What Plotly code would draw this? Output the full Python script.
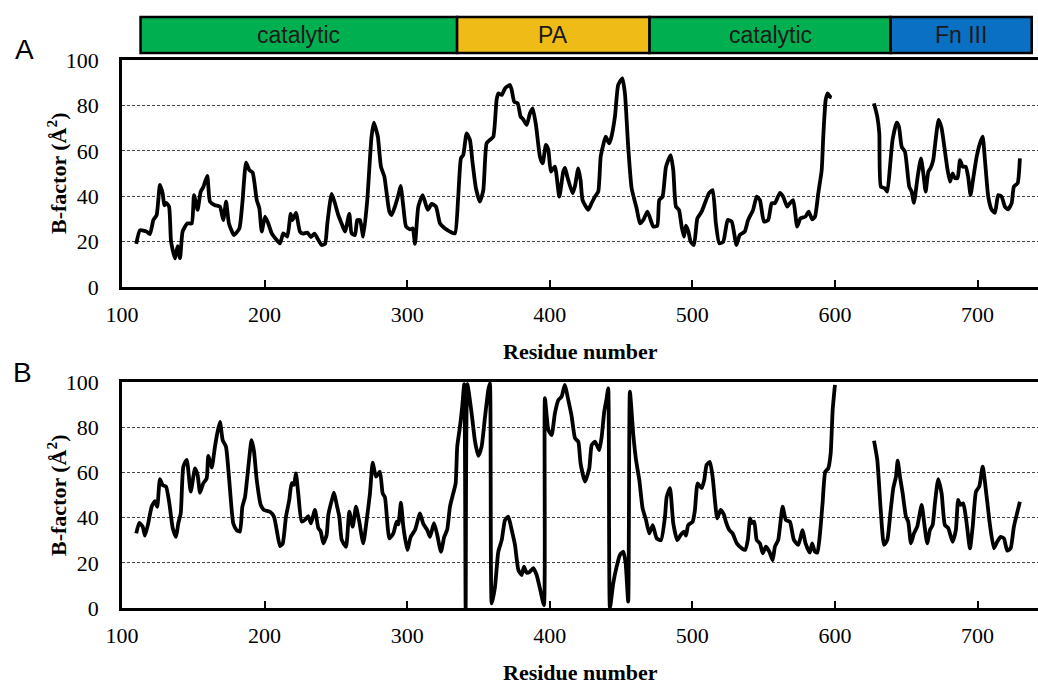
import plotly.graph_objects as go

# ---------------- data ----------------
res_a = [110, 112.6, 117.3, 119.6, 122, 124.3, 126.6, 128.5, 129.7, 131, 133, 134.4, 137.2, 139, 140.7,
         142.5, 145.8, 148.9, 150.5, 153, 155.2, 157, 159.8, 161.7, 165.2, 168.7, 171, 173, 175, 178.5,
         182.3, 184.4, 187, 189.3, 191.6, 194.5, 196.3, 198, 200.3, 202.6, 205, 208.5, 210.8, 213.1,
         215.9, 218.3, 219.6, 222, 224.8, 227, 230, 232.5, 235, 237, 240, 242.4, 244, 247, 249.3, 251.7,
         254, 256.4, 259.4, 261, 263.4, 265, 266.9, 269.2, 272, 275, 276.7, 278.6, 279.5, 281.6, 284,
         285.6, 287.5, 289.1, 291.4, 293.8, 295.4, 297.3, 299.2, 302, 303.9, 305.5, 307.8, 310.9, 314.4,
         317.2, 320.2, 323, 326.5, 330, 333.5, 335.8, 337.7, 339.3, 341.7, 344, 345.9, 348.2, 351, 353.4,
         355.7, 358, 360.4, 362.7, 363.9, 366.3, 368.6, 372.1, 373.3, 375.1, 377.5, 379.6, 381.2, 383.8,
         386.1, 388, 390.3, 393.1, 395, 397.3, 399, 400.8, 403.6, 406.7, 409.5, 410.7, 412.3, 416, 417.7,
         420, 421.6, 423, 427, 429.3, 431.7, 434, 435.7, 437.5, 439.2, 441.7, 443, 445.7, 448, 450.9,
         452.7, 455, 457.4, 460.9, 463.3, 465.6, 468.4, 470, 472.6, 475.4, 476.8, 479.1, 481.5, 484.8,
         486.6, 488.5, 490.6, 492.5, 494.1, 495.5, 497.2, 498.8, 501.1, 503.5, 506.5, 508.8, 511.6, 514.2,
         516.5, 518.9, 521.7, 524.8, 527.6, 530.9, 533.2, 536.7, 539.1, 542.6, 545.1, 547.4, 550.2, 553.2,
         555.6, 557.9, 561.4, 563.7, 566.5, 568.4, 570.7, 573.5, 575.8, 579.3, 581.6, 584, 586, 588.3,
         590.7, 591.8, 593.5, 594.9, 596.5, 597.7, None,
         627.4, 629.7, 631.1, 632.2, 635, 636.7, 638.6, 640.4, 643.3, 644.9, 646.8, 649.1, 652.1, 653.8,
         655.4, 658, 660.3, 662, 663.6, 665.5, 667, 668.9, 670.6, 672.7, 674.8, 676.7, 678.8, 680.7,
         682.5, 684.1, 686, 687.7, 689.6, 691.7, 693.4, 695.1, 697, 699.4, 701.7, 703.6, 705.2, 707.5,
         709.9, 712.2, 714.5, 716.9, 719.2, 721.5, 723.9, 725.5, 728.1, 729.7]
bf_a = [19, 25, 24.4, 23.3, 29.5, 31.7, 45, 41.3, 36, 37, 35.4, 20, 12.6, 18, 12.7,
        24.4, 28, 28, 40.5, 34, 42, 44, 49, 37.6, 36, 35.4, 29.5, 37.6, 28, 22.9,
        25.8, 36.9, 54.8, 51.5, 50.4, 38.3, 34.7, 24.4, 31, 28, 23.6, 20.7, 19.2, 23.6,
        22.2, 32.2, 29.5, 32.7, 24.4, 23.5, 24, 22, 23.5, 21.5, 18.5, 19, 28, 41, 37, 31.7,
        28, 24.4, 32.2, 23.6, 22.9, 29.5, 29.5, 22.2, 38.3, 66.2, 72.4, 68.4, 66, 53, 48.6,
        41.3, 33.2, 31.7, 35.4, 40.5, 44.5, 35.4, 26.6, 25.4, 25.8, 19, 35.4, 40.5, 34,
        36.6, 35.4, 28, 25.8, 24.4, 23.6, 39.8, 56.7, 58.1, 67.7, 64.8, 54.5, 43.5, 37.6, 42.7,
        63.3, 64.8, 66.2, 82.4, 85.3, 84.6, 87.5, 89, 86.8, 81.6, 80.9, 75, 74, 71.4,
        76.5, 78.7, 71.4, 57.4, 54.5, 62.6, 60.4, 50.8, 53, 39.8, 51, 52.5, 48.6, 41.3, 44.5,
        52.3, 47.1, 38.3, 34, 36.9, 39.8, 42, 57.4, 62.6, 66.2, 63.3, 65.5, 75, 89, 91.9,
        85.3, 61.8, 43.5, 34.7, 28, 29.5, 33.2, 31, 26.6, 27, 38.3, 39.8, 53, 58.1,
        51.5, 35.4, 34, 26.6, 22.2, 27, 24.4, 20, 18.5, 30.2, 33.2, 36.9, 41.3, 42.7,
        28, 19.2, 20, 29.5, 28.8, 18.5, 22.9, 24.4, 29.5, 34, 39.8, 38.3, 28.8, 29.5,
        36.9, 36.9, 41.5, 39.8, 35.4, 36.9, 38.3, 26.6, 30.2, 31, 33.2, 29.8, 31, 41.3,
        51.5, 66.2, 82.4, 85.3, 83.8, 83.5, None,
        80.9, 75, 67.7, 44.2, 43.5, 42, 53, 64.8, 72.4, 70.6, 61.8, 59.6, 44.2, 42,
        37.1, 48.6, 56.7, 50, 42, 50.8, 52.3, 55.9, 64.8, 73.6, 69.9, 61.8, 52.3, 46.4,
        50, 48, 48, 55.9, 53, 53, 48.6, 40.5, 47.9, 57.4, 63.3, 66.2, 55.9, 39.8,
        34, 32.7, 40.5, 39.8, 35.4, 34.2, 36.9, 44.2, 45.7, 56.7]

res_b = [110, 112.1, 114.5, 116.1, 118.4, 120.8, 123.1, 124.7, 126.6, 128.5, 130.9, 133.2, 135.6, 137.9,
         139.5, 141.2, 143, 145.4, 148.2, 151.2, 153, 154.7, 157, 159.4, 160.5, 162.9, 165.2, 166.8,
         168.7, 170.6, 172.9, 175.2, 178, 180.4, 182.7, 184.4, 186.3, 190.9, 192.6, 194.5, 197.3, 199.6,
         203.8, 206.6, 208.5, 210.8, 212.7, 215, 217.3, 219, 220.6, 222, 223.6, 226, 228.3, 230.6, 232.5,
         235.3, 237.7, 239.3, 241.2, 243.5, 244.7, 247.8, 248.7, 250.6, 252.4, 254.1, 257.1, 259.4, 261.8,
         264.1, 266.4, 269.2, 271.6, 273.9, 275.8, 278.1, 280.9, 282.8, 284.4, 287.5, 290.3, 292.6, 293.8,
         295.6, 297.3, 300.1, 302.5, 305.5, 309, 311.3, 314.1, 316, 318.8, 321.1, 323.7, 326, 328.1, 330,
         332.3, 334, 335.1, 337, 338.6, 340, 341, 342.2, 345.2, 347.6, 349.9, 352.2, 354.6, 356.9, 358,
         359.3, 361.6, 363.9, 366.3, 368.6, 370.9, 373.3, 375.6, 378, 380.3, 381.9, 383.8, 386, 388.4,
         390.8, 393.1, 395.9, 396.6, 399, 401.3, 403.6, 406, 408.3, 410.5, 413, 415.4, 417.7, 420, 421.6,
         424.7, 427.7, 429.4, 431.7, 434.7, 436.4, 438.2, 439.9, 441, 442.2, 444.5, 446.9, 449.2, 451.6,
         453.2, 455, 456.2, 458.6, 460.5, 462.8, 465.1, 467.5, 469.8, 472.2, 475, 478, 480.8, 482, 484.3,
         486.6, 489.4, 491.8, 494.1, 495.5, 497.1, 500.2, 501.8, 503.7, 506.5, 508.3, 510, 512.3, 514.2,
         515.8, 517.4, 519.8, 522.2, 523.5, 525.9, 528.2, 531.2, 534.7, 537, 538.9, 540.5, 541.6, 543.4,
         545.1, 547.4, 549.3, 551.6, 554, 556.3, 557.9, 560.2, 563.3, 565.6, 568.4, 571.2, 574.3, 577.3,
         579.4, 582.4, 584, 586, 587.7, 589.5, 591.3, 593.2, 595.3, 597, 598.4, 600, None,
         627.4, 629.7, 632.1, 634.4, 636.7, 639.1, 640.9, 642.8, 644, 645.6, 647.5, 649.8, 651.4, 653.3,
         655.4, 657.7, 660.8, 662.6, 664.7, 666.6, 668.5, 670.1, 672.4, 674.8, 677.1, 679.5, 682.5, 684.8,
         686.4, 688, 690, 691.9, 694.7, 696.6, 698.9, 701.2, 703.6, 706.4, 708.7, 711.5, 713.8, 716.2,
         718.5, 720.8, 723.2, 725.5, 729.7]
bf_b = [33, 37.7, 36, 32, 37.5, 44.8, 47.3, 44.8, 57, 54.4, 53.7, 46.3, 35.3, 31.5,
        37.5, 41.9, 62.5, 65.5, 51.5, 61.8, 59, 51, 55.2, 57.4, 67.3, 62.1, 71.4, 77.3,
        82.4, 74.3, 71.4, 56.6, 37.5, 34.5, 33.8, 44.8, 49.2, 74.3, 69.2, 56.6, 45.6, 43.4,
        42.6, 40.4, 34.5, 27.4, 28.5, 40.4, 47.8, 55.2, 54.5, 59.6, 50.7, 38.2, 39, 40.7, 37.5,
        43.4, 35.3, 34, 28.6, 32.3, 41.2, 49.2, 51, 45.6, 40.4, 30.1, 27.1, 42.6, 36,
        44.8, 38.2, 28.6, 38.9, 50.7, 64.3, 58.1, 60.3, 50.7, 49, 30.8, 33, 38.2, 37,
        46.6, 36, 25.7, 31.5, 34.5, 41.9, 37.2, 34.5, 31.5, 37.5, 32.3, 24.9, 31.5, 34.8, 44.8,
        50.7, 55.2, 71.4, 80.2, 89.1, 99, 0, 99, 86.1, 73.6, 67.3, 71.4, 84.6, 96.5, 99.4,
        2, 9.4, 24.9, 30, 38.9, 40.4, 34.5, 27.9, 16.8, 14.6, 18.3, 15.6, 16, 17.6,
        14.6, 8.7, 1.3, 92.8, 78.8, 76.5, 86.1, 92, 93.5, 98.7, 92, 84.6, 75.1, 73.6, 64,
        55.9, 61.8, 72.1, 73.6, 69.9, 75.8, 86.9, 92.8, 97.2, 0, 10.9, 18.3, 23.5, 24.9,
        19.8, 2.8, 95.7, 76.5, 65.5, 56.6, 44.1, 38.9, 33, 36.7, 30.8, 30, 40.4, 49.2, 53,
        37.5, 30, 32.3, 33.8, 32, 36.7, 38.2, 43.4, 55.2, 53, 56.6, 63.3, 64.7, 58.1,
        47.8, 39.7, 43.4, 41.2, 38.2, 34.5, 33, 28.6, 26.4, 25.7, 30.1, 39.7, 37.5, 38.2,
        30.1, 28.6, 24.2, 27.1, 24.9, 21.2, 27.1, 30.1, 44.8, 38.9, 38.2, 30.1, 27.9, 34.5,
        28.6, 24.5, 28.6, 24.9, 24.5, 33, 46.3, 60.3, 61.8, 68.4, 87.6, 98.7, None,
        74, 65.5, 43.4, 27.9, 30.1, 43.4, 53, 58.1, 65.2, 58.1, 50.7, 40.4, 38.2, 28.6,
        33, 36, 45.6, 37.5, 28.6, 34.5, 36.7, 46.3, 57, 50.7, 36.7, 35.3, 29.3, 34.5,
        47.8, 45.6, 46.3, 39.7, 26.4, 36, 51.5, 53.7, 62.5, 49.2, 36.7, 26.4, 29.3, 31.5,
        30.8, 25.4, 26.4, 36, 47]

x_ticks = [100, 200, 300, 400, 500, 600, 700]
y_ticks = [0, 20, 40, 60, 80, 100]

domain_names = ["catalytic", "PA", "catalytic", "Fn III"]
domain_start = [113, 335, 470, 639]
domain_end = [335, 470, 639, 738]
domain_colors = ["#00B050", "#EFBC17", "#00B050", "#0A70C4"]

panel_labels = ["A", "B"]

# ---------------- layout helpers ----------------
W, H = 1038, 684
def fy(p):
    return 1 - p / H

serif = "Liberation Serif, Times New Roman, serif"
sans = "Liberation Sans, Arial, sans-serif"

fig = go.Figure()
for xs, ys, xa, ya in [(res_a, bf_a, "x", "y"), (res_b, bf_b, "x2", "y2")]:
    fig.add_trace(go.Scatter(x=xs, y=ys, mode="lines", connectgaps=False,
                             line=dict(color="black", width=3.8, shape="spline", smoothing=0.5),
                             xaxis=xa, yaxis=ya, showlegend=False, hoverinfo="skip"))

xcommon = dict(range=[100, 742.4], tickvals=x_ticks, ticks="inside", ticklen=7, tickwidth=2,
               tickcolor="black", showline=True, linecolor="black", linewidth=2.5, mirror=True,
               showgrid=False, zeroline=False, ticklabelstandoff=6, automargin=False,
               tickfont=dict(family=serif, size=22, color="black"))
ycommon = dict(range=[0, 100], tickvals=y_ticks, ticks="", showline=True, linecolor="black",
               linewidth=2.5, showgrid=True, gridcolor="#444444", gridwidth=1, griddash="3px,2px",
               zeroline=False, ticklabelstandoff=16, automargin=False,
               tickfont=dict(family=serif, size=22, color="black"))

fig.update_layout(
    width=W, height=H, margin=dict(l=0, r=0, t=0, b=0, autoexpand=False),
    paper_bgcolor="white", plot_bgcolor="white",
    xaxis=dict(domain=[122 / W, 1.0], anchor="y", **xcommon),
    yaxis=dict(domain=[fy(287), fy(60)], anchor="x", **ycommon),
    xaxis2=dict(domain=[122 / W, 1.0], anchor="y2", **xcommon),
    yaxis2=dict(domain=[fy(608), fy(382)], anchor="x2", **ycommon),
)

# domain bar
for name, s, e, c in zip(domain_names, domain_start, domain_end, domain_colors):
    fig.add_shape(type="rect", xref="x", yref="paper", x0=s, x1=e, y0=fy(53), y1=fy(17),
                  fillcolor=c, line=dict(color="black", width=2.5), layer="above")
    fig.add_annotation(x=(s + e) / 2, y=fy(35), xref="x", yref="paper", text=name,
                       showarrow=False, font=dict(family=sans, size=23, color="#1a1a1a"),
                       xanchor="center", yanchor="middle")

# axis titles and panel labels
for yc in [351, 672]:
    fig.add_annotation(x=580 / W, y=fy(yc), xref="paper", yref="paper",
                       text="<b>Residue number</b>", showarrow=False,
                       font=dict(family=serif, size=22, color="black"),
                       xanchor="center", yanchor="middle")
for yc in [173, 495]:
    fig.add_annotation(x=57 / W, y=fy(yc), xref="paper", yref="paper",
                       text="<b>B-factor (Å<sup>2</sup>)</b>", showarrow=False, textangle=-90,
                       font=dict(family=serif, size=22, color="black"),
                       xanchor="center", yanchor="middle")
for lab, (xc, yc) in zip(panel_labels, [(24, 50), (22, 373)]):
    fig.add_annotation(x=xc / W, y=fy(yc), xref="paper", yref="paper", text=lab,
                       showarrow=False, font=dict(family=sans, size=28, color="black"),
                       xanchor="center", yanchor="middle")

fig.write_html("out.html")
